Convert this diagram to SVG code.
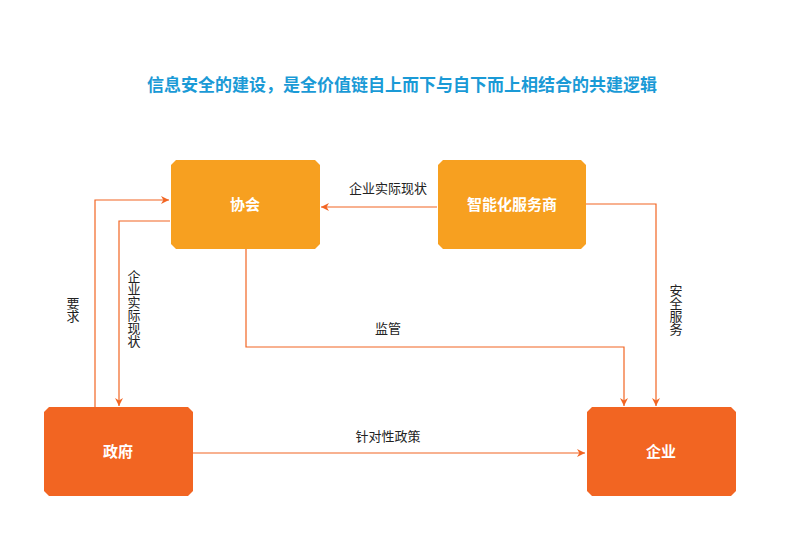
<svg xmlns="http://www.w3.org/2000/svg" width="809" height="556" viewBox="0 0 809 556">
<defs>
<marker id="a" viewBox="0 0 10 10" refX="10" refY="5" markerWidth="8" markerHeight="8" markerUnits="userSpaceOnUse" orient="auto"><path d="M0,0 L10,5 L0,10 L3,5 Z" fill="#F26522"/></marker>
</defs>
<style>
text{font-family:"Noto Sans CJK SC",sans-serif}
.n{font-size:15px;font-weight:bold;fill:#fff;text-anchor:middle}
.l{font-size:13px;fill:#222;text-anchor:middle}
.v{font-size:13px;fill:#222;text-anchor:middle;writing-mode:vertical-rl;glyph-orientation-vertical:0}
.c{fill:none;stroke:#F26522;stroke-width:1.2;marker-end:url(#a)}
</style>
<rect width="809" height="556" fill="#fff"/>
<text x="402" y="91" style="font-size:17px;font-weight:bold;fill:#1A9AD6;text-anchor:middle">信息安全的建设，是全价值链自上而下与自下而上相结合的共建逻辑</text>
<g id="connectors">
<path class="c" d="M437,207 H321"/>
<path class="c" d="M586,204 H656 V406"/>
<path class="c" d="M246,249 V347 H624 V406"/>
<path class="c" d="M95,407 V200 H169"/>
<path class="c" d="M170,221 H119 V406"/>
<path class="c" d="M193,453 H585"/>
<text class="l" x="388" y="193">企业实际现状</text>
<text class="l" x="388" y="333">监管</text>
<text class="l" x="388" y="441">针对性政策</text>
<text class="v" x="73" y="310">要求</text>
<text class="v" x="134" y="309">企业实际现状</text>
<text class="v" x="676" y="310">安全服务</text>
</g>
<g id="xiehui"><path d="M176,160 H315 L320,165 V244 L315,249 H176 L171,244 V165 Z" fill="#F7A020"/><text class="n" x="245" y="210">协会</text></g>
<g id="fuwushang"><path d="M443,160 H581 L586,165 V244 L581,249 H443 L438,244 V165 Z" fill="#F7A020"/><text class="n" x="512" y="210">智能化服务商</text></g>
<g id="zhengfu"><path d="M49,407 H188 L193,412 V491 L188,496 H49 L44,491 V412 Z" fill="#F26522"/><text class="n" x="118" y="457">政府</text></g>
<g id="qiye"><path d="M592,407 H731 L736,412 V491 L731,496 H592 L587,491 V412 Z" fill="#F26522"/><text class="n" x="661" y="457">企业</text></g>
</svg>
